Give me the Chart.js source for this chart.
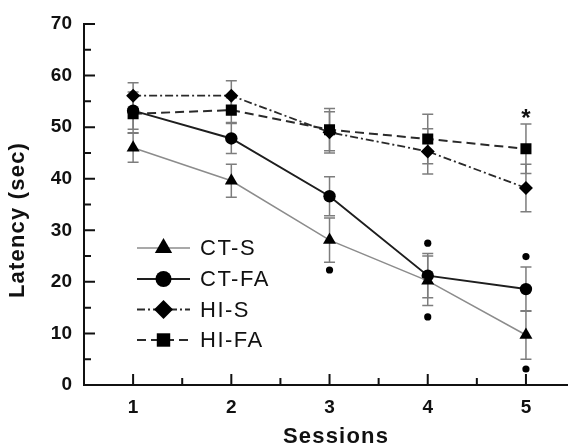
<!DOCTYPE html>
<html><head><meta charset="utf-8">
<script src="https://cdn.jsdelivr.net/npm/chart.js@4/dist/chart.umd.min.js"></script>
<style>html,body{margin:0;padding:0;background:#fff;overflow:hidden}#wrap{width:575px;height:446px;position:relative}</style>
</head><body><div id="wrap"><canvas id="c" width="575" height="446"></canvas></div>
<script>
// ---- data ----
const sessions = [1, 2, 3, 4, 5];
const ctS      = [46.0, 39.6, 28.1, 20.2, 9.7];
const ctSErr   = [2.8, 3.2, 4.3, 4.8, 4.7];
const ctFA     = [53.2, 47.8, 36.6, 21.2, 18.6];
const ctFAErr  = [3.6, 2.9, 3.8, 4.3, 4.3];
const hiS      = [56.1, 56.1, 49.0, 45.3, 38.2];
const hiSErr   = [2.5, 2.9, 4.0, 4.4, 4.6];
const hiFA     = [52.6, 53.3, 49.5, 47.7, 45.8];
const hiFAErr  = [3.7, 2.4, 4.1, 4.8, 4.8];
const outlierX = [3, 4, 4, 5, 5];
const outlierY = [22.3, 27.5, 13.2, 24.9, 3.1];
const seriesNames = ['CT-S', 'CT-FA', 'HI-S', 'HI-FA'];
const xTicks = [1, 2, 3, 4, 5];
const xMinorTicks = [1.5, 2.5, 3.5, 4.5];
const yTicks = [0, 10, 20, 30, 40, 50, 60, 70];
const yMinorTicks = [5, 15, 25, 35, 45, 55, 65];
const sigSessions = [5];
const sigValues = [52.3];
const xTitle = 'Sessions';
const yTitle = 'Latency (sec)';

const FONT = '"Liberation Sans", Arial, Helvetica, sans-serif';
const pts = (ys) => sessions.map((x, i) => ({x: x, y: ys[i]}));

const datasets = [
  {label: seriesNames[0], data: pts(ctS), errors: ctSErr, borderColor: '#8c8c8c', borderWidth: 1.5,
   pointStyle: 'triangle', pointRadius: 7.5, pointBackgroundColor: '#000', pointBorderColor: '#000', pointBorderWidth: 0, legendRadius: 10},
  {label: seriesNames[1], data: pts(ctFA), errors: ctFAErr, borderColor: '#1e1e1e', borderWidth: 2,
   pointStyle: 'circle', pointRadius: 6.2, pointBackgroundColor: '#000', pointBorderColor: '#000', pointBorderWidth: 0, legendRadius: 8},
  {label: seriesNames[2], data: pts(hiS), errors: hiSErr, borderColor: '#2a2a2a', borderWidth: 1.8, borderDash: [8, 3, 2, 3],
   pointStyle: 'rectRot', pointRadius: 7, pointBackgroundColor: '#000', pointBorderColor: '#000', pointBorderWidth: 0, legendRadius: 9.5},
  {label: seriesNames[3], data: pts(hiFA), errors: hiFAErr, borderColor: '#2a2a2a', borderWidth: 2, borderDash: [9, 5],
   pointStyle: 'rect', pointRadius: 7.8, pointBackgroundColor: '#000', pointBorderColor: '#000', pointBorderWidth: 0, legendRadius: 9.5},
  {label: 'outliers', data: outlierX.map((x, i) => ({x: x, y: outlierY[i]})), showLine: false, isOutlier: true,
   pointStyle: 'circle', pointRadius: 3.6, pointBackgroundColor: '#000', pointBorderColor: '#000', pointBorderWidth: 0}
];

function drawMarker(ctx, style, r, x, y) {
  if (Chart.helpers && Chart.helpers.drawPoint) {
    ctx.fillStyle = '#000'; ctx.strokeStyle = '#000'; ctx.lineWidth = 0.01; ctx.setLineDash([]);
    Chart.helpers.drawPoint(ctx, {pointStyle: style, rotation: 0, radius: r, borderWidth: 0}, x, y);
  }
}

const errorBars = {
  id: 'errorBars',
  beforeDatasetsDraw(chart) {
    const ctx = chart.ctx, xs = chart.scales.x, ys = chart.scales.y;
    ctx.save();
    ctx.strokeStyle = '#7d7d7d'; ctx.lineWidth = 1.5; ctx.setLineDash([]);
    chart.data.datasets.forEach(ds => {
      if (!ds.errors) return;
      ds.data.forEach((p, i) => {
        const e = ds.errors[i];
        const px = xs.getPixelForValue(p.x);
        const yt = ys.getPixelForValue(p.y + e), yb = ys.getPixelForValue(p.y - e);
        ctx.beginPath();
        ctx.moveTo(px, yt); ctx.lineTo(px, yb);
        ctx.moveTo(px - 5.5, yt); ctx.lineTo(px + 5.5, yt);
        ctx.moveTo(px - 5.5, yb); ctx.lineTo(px + 5.5, yb);
        ctx.stroke();
      });
    });
    ctx.restore();
  }
};

const decor = {
  id: 'decor',
  afterDraw(chart) {
    const ctx = chart.ctx, xs = chart.scales.x, ys = chart.scales.y, a = chart.chartArea;
    ctx.save();
    // inward ticks
    ctx.strokeStyle = '#111'; ctx.lineWidth = 2; ctx.setLineDash([]);
    ctx.beginPath();
    yTicks.forEach(v => { const py = ys.getPixelForValue(v); if (v > 0) { ctx.moveTo(a.left, py); ctx.lineTo(a.left + 11, py); } });
    yMinorTicks.forEach(v => { const py = ys.getPixelForValue(v); ctx.moveTo(a.left, py); ctx.lineTo(a.left + 7, py); });
    xTicks.forEach(v => { const px = xs.getPixelForValue(v); ctx.moveTo(px, a.bottom); ctx.lineTo(px, a.bottom - 11); });
    xMinorTicks.forEach(v => { const px = xs.getPixelForValue(v); ctx.moveTo(px, a.bottom); ctx.lineTo(px, a.bottom - 7); });
    ctx.stroke();

    // axis titles
    ctx.fillStyle = '#111';
    ctx.font = 'bold 22px ' + FONT;
    try { ctx.letterSpacing = '1.2px'; } catch (e) {}
    ctx.textAlign = 'center'; ctx.textBaseline = 'middle';
    ctx.fillText(xTitle, 336, 437);
    ctx.save();
    ctx.translate(18, 220); ctx.rotate(-Math.PI / 2);
    ctx.fillText(yTitle, 0, 0);
    ctx.restore();
    try { ctx.letterSpacing = '0px'; } catch (e) {}

    // significance asterisk
    ctx.font = 'bold 24px ' + FONT;
    sigSessions.forEach((s, i) => {
      ctx.fillText('*', xs.getPixelForValue(s), ys.getPixelForValue(sigValues[i]) + 4);
    });

    // legend
    const lx0 = 137, lx1 = 190, mx = 163.5, tx = 200;
    const rows = [248, 279, 309.5, 340];
    ctx.font = '22px ' + FONT;
    try { ctx.letterSpacing = '1.5px'; } catch (e) {}
    ctx.textAlign = 'left'; ctx.textBaseline = 'middle';
    datasets.slice(0, 4).forEach((ds, i) => {
      const y = rows[i];
      ctx.save();
      ctx.strokeStyle = ds.borderColor; ctx.lineWidth = ds.borderWidth;
      ctx.setLineDash(ds.borderDash || []);
      ctx.beginPath(); ctx.moveTo(lx0, y); ctx.lineTo(lx1, y); ctx.stroke();
      ctx.restore();
      ctx.save();
      drawMarker(ctx, ds.pointStyle, ds.legendRadius, mx, y);
      ctx.restore();
      ctx.fillStyle = '#111';
      ctx.fillText(ds.label, tx, y + 1);
    });
    try { ctx.letterSpacing = '0px'; } catch (e) {}
    ctx.restore();
  }
};

new Chart(document.getElementById('c'), {
  type: 'line',
  data: {datasets: datasets},
  options: {
    responsive: false,
    animation: false,
    events: [],
    layout: {padding: {top: 24, right: 0, left: 0, bottom: 0}},
    elements: {line: {tension: 0}},
    plugins: {legend: {display: false}, tooltip: {enabled: false}},
    scales: {
      x: {
        type: 'linear', min: 0.5, max: 5.42,
        afterBuildTicks: s => { s.ticks = xTicks.map(v => ({value: v})); },
        afterFit: s => { s.height = 61; },
        grid: {display: false, drawTicks: false},
        border: {display: true, color: '#111', width: 2},
        ticks: {color: '#111', font: {family: FONT, size: 19, weight: 'bold'}, padding: 11, maxRotation: 0}
      },
      y: {
        type: 'linear', min: 0, max: 70,
        afterBuildTicks: s => { s.ticks = yTicks.map(v => ({value: v})); },
        afterFit: s => { s.width = 84; },
        grid: {display: false, drawTicks: false},
        border: {display: true, color: '#111', width: 2},
        ticks: {color: '#111', font: {family: FONT, size: 19, weight: 'bold'}, padding: 12}
      }
    }
  },
  plugins: [errorBars, decor]
});
</script>
</body></html>
